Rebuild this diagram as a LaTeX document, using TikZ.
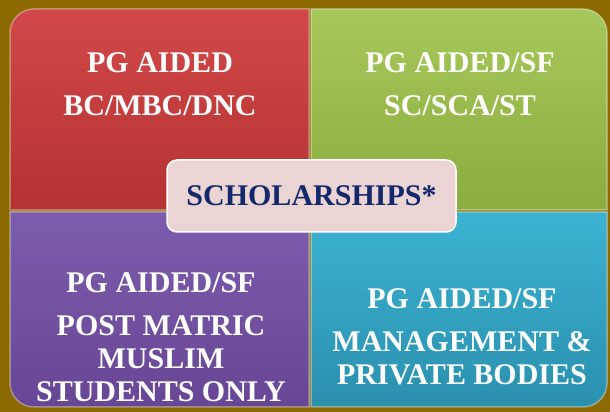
\documentclass[tikz,border=0pt]{standalone}
\usepackage{fontspec}
\setmainfont{Liberation Serif}
\definecolor{bgolive}{HTML}{8C6A00}
\definecolor{redtop}{HTML}{D24848}
\definecolor{redbot}{HTML}{B53232}
\definecolor{greentop}{HTML}{A6C85A}
\definecolor{greenbot}{HTML}{8BAD40}
\definecolor{purpletop}{HTML}{7C5CAC}
\definecolor{purplebot}{HTML}{674795}
\definecolor{cyantop}{HTML}{3CB2D2}
\definecolor{cyanbot}{HTML}{2A90AE}
\definecolor{titlefill}{HTML}{EBD4D4}
\definecolor{titletext}{HTML}{13296B}
\begin{document}
\begin{tikzpicture}[x=1pt,y=1pt,
	quad/.style={draw=white,draw opacity=0.35,line width=1.5pt},
	quadtext/.style={text=white,align=center,font=\bfseries\fontsize{30}{33}\selectfont},
	titlebox/.style={draw=white,line width=1.5pt,fill=titlefill,rounded corners=10pt,
		minimum width=289pt,minimum height=72pt,text=titletext,font=\bfseries\fontsize{30}{33}\selectfont}]
		\useasboundingbox (0,0) rectangle (610,412);
		\fill[bgolive] (0,0) rectangle (610,412);
		% quadrants
		\path[quad,top color=redtop,bottom color=redbot] (309,202) -- (10,202) -- (10,379) arc [start angle=180,end angle=90,radius=24] -- (309,403) -- cycle;
		\path[quad,top color=greentop,bottom color=greenbot] (311,202) -- (311,403) -- (583,403) arc [start angle=90,end angle=0,radius=24] -- (607,202) -- cycle;
		\path[quad,top color=purpletop,bottom color=purplebot] (309,200) -- (10,200) -- (10,29) arc [start angle=180,end angle=270,radius=24] -- (309,5) -- cycle;
		\path[quad,top color=cyantop,bottom color=cyanbot] (311,200) -- (607,200) -- (607,29) arc [start angle=0,end angle=-90,radius=24] -- (311,5) -- cycle;
		% labels
		\node[quadtext] (red) at (160,328) {PG AIDED\\[10pt]BC/MBC/DNC};
		\node[quadtext] (green) at (460,328) {PG AIDED/SF\\[10pt]SC/SCA/ST};
		\node[quadtext] (purple) at (161,75) {PG AIDED/SF\\[10pt]POST MATRIC\\MUSLIM\\STUDENTS ONLY};
		\node[quadtext] (cyan) at (462,75) {PG AIDED/SF\\[10pt]MANAGEMENT \&\\PRIVATE BODIES};
		\node[titlebox] (title) at (311.5,216) {SCHOLARSHIPS*};
		\end{tikzpicture}
\end{document}
